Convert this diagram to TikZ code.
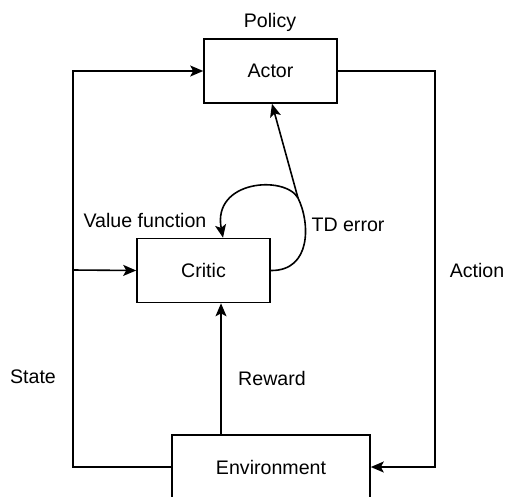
\documentclass[tikz,border=0pt]{standalone}
\usepackage{fontspec}
\setmainfont{Liberation Sans}
\usetikzlibrary{arrows.meta,positioning,calc}

\begin{document}
\begin{tikzpicture}[x=1pt,y=-1pt,line width=1.6pt,
		box/.style={draw,minimum width=133pt,minimum height=64pt,inner sep=0pt},
		arr/.style={-{Stealth[length=13pt,width=11pt,inset=3pt]}},
		lbl/.style={inner sep=0pt}]
			\useasboundingbox (0,0) rectangle (505,496);
			\fontsize{19.6}{23}\selectfont
			\node (actor) at (270.5,71) [box] {Actor};
			\node (critic) at (203.5,270.5) [box] {Critic};
			\node (env) at (271,467) [box,minimum width=198pt] {Environment};
			\coordinate (sl) at (73,71);
			\coordinate (sb) at (73,270);
			\coordinate (ar) at (435,467);
			\coordinate (rw) at (221,0);
			\coordinate (td) at (298,198);
			\draw[arr](env.west)-|(sl)--(actor.west);
			\draw[arr](sb)--(critic.west);
			\draw[arr](actor.east)-|(ar)--(env.east);
			\draw[arr](env.north-|rw)--(critic.south-|rw);
			\draw(critic.east) .. controls (312,271) and (310,222) .. (td);
			\draw[arr](td)--($(actor.south)+(1.5,0)$);
			\draw[arr](td) .. controls (285,175) and (212,180) .. ($(critic.north)+(19.5,0)$);
			\node (policy) at (270,22) [lbl] {Policy};
			\node (value) at (145,220) [lbl] {Value function};
			\node (tderr) at (348,225) [lbl] {TD error};
			\node (action) at (477,270) [lbl] {Action};
			\node (state) at (33,377) [lbl] {State};
			\node (reward) at (272,378) [lbl] {Reward};
		\end{tikzpicture}
\end{document}
